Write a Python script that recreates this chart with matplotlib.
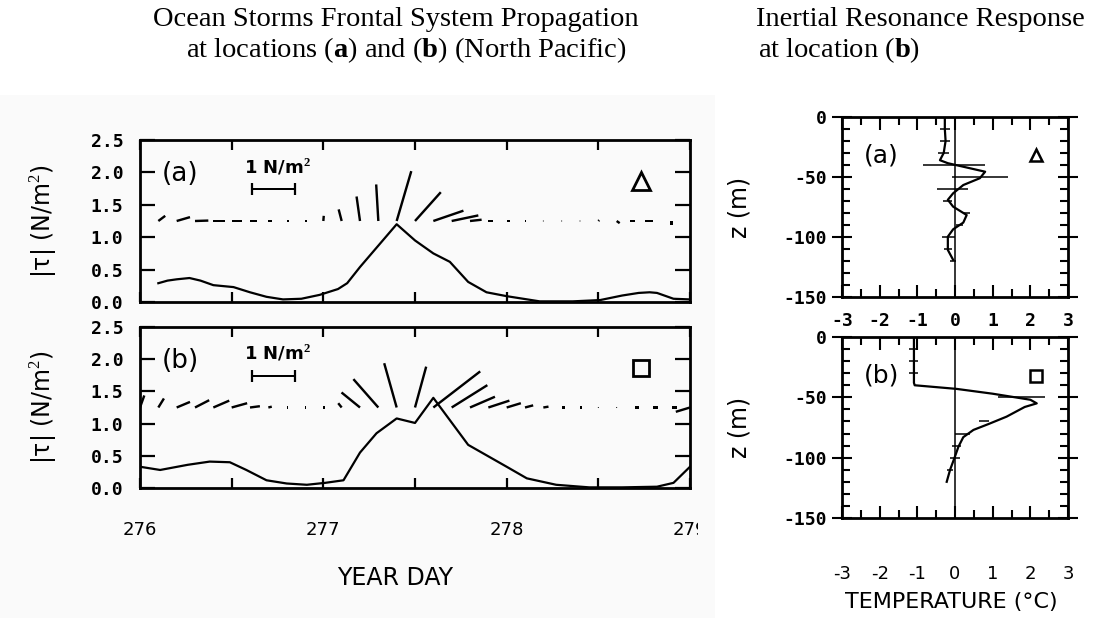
import numpy as np
import matplotlib
matplotlib.use("Agg")
import matplotlib.pyplot as plt
from matplotlib.patches import Rectangle
from matplotlib.ticker import MultipleLocator, FormatStrFormatter, FixedLocator
from matplotlib.transforms import ScaledTranslation, Bbox, TransformedBbox

plt.rcParams['axes.unicode_minus'] = False
plt.rcParams['mathtext.fontset'] = 'custom'
plt.rcParams['mathtext.rm'] = 'Liberation Serif'
plt.rcParams['mathtext.bf'] = 'Liberation Serif:bold'

# ---------------- data: wind stress magnitude (N/m^2) ----------------
day_a = [276.10, 276.15, 276.20, 276.27, 276.33, 276.40, 276.51, 276.60, 276.69, 276.78,
         276.88, 276.98, 277.08, 277.13, 277.20, 277.30, 277.40, 277.50, 277.60, 277.69,
         277.79, 277.89, 278.00, 278.18, 278.36, 278.51, 278.63, 278.72, 278.78, 278.82,
         278.91, 279.00]
tau_a = [0.29, 0.33, 0.35, 0.37, 0.33, 0.26, 0.23, 0.15, 0.08, 0.04,
         0.05, 0.11, 0.20, 0.29, 0.54, 0.87, 1.20, 0.95, 0.75, 0.62,
         0.31, 0.15, 0.09, 0.01, 0.01, 0.03, 0.10, 0.14, 0.15, 0.14,
         0.05, 0.04]

day_b = [276.00, 276.11, 276.26, 276.38, 276.49, 276.58, 276.69, 276.80, 276.91, 277.01,
         277.11, 277.20, 277.29, 277.40, 277.50, 277.60, 277.79, 278.00, 278.11, 278.27,
         278.45, 278.63, 278.82, 278.91, 279.00]
tau_b = [0.33, 0.28, 0.36, 0.41, 0.40, 0.28, 0.12, 0.07, 0.05, 0.08,
         0.12, 0.55, 0.85, 1.08, 1.01, 1.40, 0.67, 0.33, 0.15, 0.05,
         0.01, 0.01, 0.02, 0.08, 0.33]

# ---------------- data: wind stress vectors (stick plot) ----------------
stick_day_a = [276.1, 276.2, 276.3, 276.4, 276.5, 276.6, 276.7, 276.8, 276.9, 277.0,
               277.1, 277.2, 277.3, 277.4, 277.5, 277.6, 277.7, 277.8, 277.9, 278.0,
               278.1, 278.2, 278.3, 278.4, 278.5, 278.6, 278.7, 278.8, 278.9]
stick_u_a = [0.16, 0.31, 0.31, 0.27, 0.23, 0.16, 0.09, 0.05, 0.04, 0.01,
             -0.07, -0.08, -0.05, 0.34, 0.60, 0.70, 0.62, 0.27, 0.12, 0.07,
             0.03, 0.02, 0.02, 0.02, 0.02, 0.07, -0.12, -0.19, 0.00]
stick_v_a = [0.12, 0.09, 0.01, 0.00, 0.00, 0.00, 0.00, 0.00, 0.00, 0.12,
             0.27, 0.57, 0.85, 1.16, 0.67, 0.24, 0.13, 0.03, 0.00, 0.00,
             0.00, 0.00, 0.00, 0.00, 0.02, -0.05, 0.00, 0.00, -0.10]

stick_day_b = [276.0, 276.1, 276.2, 276.3, 276.4, 276.5, 276.6, 276.7, 276.8, 276.9,
               277.0, 277.1, 277.2, 277.3, 277.4, 277.5, 277.6, 277.7, 277.8, 277.9,
               278.0, 278.1, 278.2, 278.3, 278.4, 278.5, 278.6, 278.7, 278.8, 278.9,
               279.0]
stick_u_b = [0.10, 0.13, 0.31, 0.33, 0.37, 0.36, 0.23, 0.08, 0.03, 0.03,
             0.03, -0.08, -0.43, -0.58, -0.29, 0.26, 1.09, 0.83, 0.58, 0.49,
             0.33, 0.19, 0.12, 0.08, 0.04, 0.02, 0.02, 0.09, 0.10, 0.12,
             -0.33]
stick_v_b = [0.28, 0.21, 0.13, 0.17, 0.16, 0.10, 0.03, 0.02, 0.00, 0.00,
             0.00, 0.10, 0.35, 0.66, 1.03, 0.95, 0.84, 0.52, 0.25, 0.16,
             0.10, 0.05, 0.02, 0.00, 0.00, 0.00, 0.00, 0.00, 0.00, 0.00,
             -0.10]

# ---------------- data: temperature response profiles ----------------
temp_a = [-0.27, -0.27, -0.25, -0.30, -0.40, -0.19, 0.80, 0.66, 0.22, -0.05,
          -0.19, -0.05, 0.31, 0.22, -0.05, -0.19, -0.19, -0.05]
depth_a = [0, -10, -20, -30, -36, -38.5, -45.6, -51, -56.7, -63.6,
           -69, -74.7, -81.7, -88, -93.6, -99.7, -110.8, -119]
err_z_a = [-10, -20, -30, -40, -50, -60, -70, -80, -90, -100, -110, -120]
err_c_a = [-0.27, -0.27, -0.30, -0.02, 0.66, -0.07, -0.19, 0.30, 0.12, -0.17, -0.19, -0.05]
err_w_a = [0.14, 0.14, 0.14, 0.82, 0.75, 0.42, 0.12, 0.10, 0.10, 0.18, 0.10, 0.08]

temp_b = [-1.09, -1.09, -1.09, -1.09, -1.09, -1.07, 0.04, 1.00, 2.00, 2.17,
          1.85, 1.37, 0.90, 0.49, 0.22, 0.09, 0.00, -0.13, -0.22]
depth_b = [0, -10, -20, -30, -38, -40, -43, -47, -52, -55,
           -58, -66, -72, -77, -83, -91, -99, -110, -120]
err_z_b = [-10, -20, -30, -50, -70, -80, -90, -100, -110]
err_c_b = [-1.09, -1.09, -1.09, 1.77, 0.77, 0.20, 0.03, 0.00, -0.12]
err_w_b = [0.12, 0.12, 0.12, 0.62, 0.12, 0.20, 0.12, 0.12, 0.08]

year_ticks = [276, 277, 278, 279]
stress_ticks = [0.0, 0.5, 1.0, 1.5, 2.0, 2.5]
depth_ticks = [0, -50, -100, -150]
temp_ticks = [-3, -2, -1, 0, 1, 2, 3]

# ---------------- figure ----------------
W, H = 1093, 618
fig = plt.figure(figsize=(W / 100, H / 100), dpi=100)
fig.patches.append(Rectangle((0, 0), 715 / W, 1 - 95 / H, transform=fig.transFigure,
                             facecolor='#fafafa', edgecolor='none', zorder=-10))

def fax(x0, y0, x1, y1):
    return fig.add_axes([x0 / W, 1 - y1 / H, (x1 - x0) / W, (y1 - y0) / H])

axA = fax(140, 140, 690, 302)
axB = fax(140, 327, 690, 488)
axTa = fax(842, 117, 1068, 297)
axTb = fax(842, 337, 1068, 518)

mono = 'DejaVu Sans Mono'
px_per_unit = 43.0  # stick length in pixels for 1 N/m^2
qkw = dict(units='dots', scale_units='dots', scale=1 / px_per_unit, width=2.4,
           headwidth=0, headlength=0, headaxislength=0, pivot='tail', color='k',
           minlength=0.5)

def left_panel(ax, days, tau, sd, su, sv, lab, marker, show_x):
    ax.set_facecolor('none')
    ax.plot(days, tau, color='k', lw=1.6)
    ax.quiver(sd, np.full(len(sd), 1.25), su, sv, **qkw)
    # scale bar 1 N/m^2
    x0, yb = 276.61, 1.74
    ax.quiver([x0], [yb], [1.0], [0.0], **qkw)
    ax.plot([x0], [yb], marker='|', ms=9, mew=1.6, color='k')
    off = ScaledTranslation(px_per_unit / 100, 0, fig.dpi_scale_trans)
    ax.plot([x0], [yb], marker='|', ms=9, mew=1.6, color='k', transform=ax.transData + off)
    ax.text(276.75, 2.09, '1 N/m$^{\\mathbf{2}}$', ha='center', va='center', fontsize=13,
            fontweight='bold', family='DejaVu Sans')
    ax.text(276.22, 1.97, lab, ha='center', va='center', fontsize=19, family='DejaVu Sans')
    ax.plot([278.73], [1.87], marker=marker, ms=13 if marker == '^' else 12, mfc='none',
            mec='k', mew=2)
    ax.set_xlim(276, 279)
    ax.set_ylim(0, 2.5)
    ax.xaxis.set_major_locator(FixedLocator(year_ticks))
    ax.xaxis.set_minor_locator(MultipleLocator(0.5))
    ax.yaxis.set_major_locator(FixedLocator(stress_ticks))
    ax.yaxis.set_major_formatter(FormatStrFormatter('%.1f'))
    ax.tick_params(axis='x', which='both', direction='in', top=True, bottom=True,
                   length=7, width=1.6, labelbottom=show_x, pad=24,
                   labelsize=13)
    ax.tick_params(axis='y', which='both', direction='in', left=True, right=True,
                   length=11, width=1.6, pad=12, labelsize=13)
    for t in ax.get_yticklabels():
        t.set_family(mono)
        t.set_fontweight('bold')
    for s in ax.spines.values():
        s.set_linewidth(2)
    ax.set_ylabel('|τ| (N/m$^2$)', fontsize=17, family='DejaVu Sans')
    ax.yaxis.set_label_coords(-0.145, 0.5)

left_panel(axA, day_a, tau_a, stick_day_a, stick_u_a, stick_v_a, '(a)', '^', False)
left_panel(axB, day_b, tau_b, stick_day_b, stick_u_b, stick_v_b, '(b)', 's', True)

def right_panel(ax, T, z, ez, ec, ew, lab, marker, label_pad):
    ax.plot(T, z, color='k', lw=1.6)
    ax.axvline(0, color='k', lw=1.1)
    ec = np.asarray(ec); ew = np.asarray(ew)
    ax.hlines(ez, ec - ew, ec + ew, color='k', lw=1.1)
    ax.text(-1.95, -32, lab, ha='center', va='center', fontsize=18, family='DejaVu Sans')
    ax.plot([2.15], [-32], marker=marker, ms=9, mfc='none', mec='k', mew=1.8)
    ax.set_xlim(-3, 3)
    ax.set_ylim(-150, 0)
    ax.xaxis.set_major_locator(FixedLocator(temp_ticks))
    ax.xaxis.set_minor_locator(MultipleLocator(0.5))
    ax.yaxis.set_major_locator(FixedLocator(depth_ticks))
    ax.yaxis.set_minor_locator(MultipleLocator(10))
    ax.tick_params(axis='x', which='major', direction='in', top=True, bottom=True,
                   length=9, width=1.5, pad=label_pad, labelsize=13)
    ax.tick_params(axis='x', which='minor', direction='in', top=True, bottom=True,
                   length=6, width=1.5)
    ax.tick_params(axis='y', which='major', direction='inout', left=True, right=True,
                   length=14, width=1.5, pad=4, labelsize=13)
    ax.tick_params(axis='y', which='minor', direction='in', left=True, right=True,
                   length=6, width=1.5)
    for t in ax.get_yticklabels() + ax.get_xticklabels():
        t.set_family(mono)
        t.set_fontweight('bold')
    for s in ax.spines.values():
        s.set_linewidth(2)
    ax.set_ylabel('z (m)', fontsize=17, family='DejaVu Sans')
    ax.yaxis.set_label_coords(-0.40, 0.5)

right_panel(axTa, temp_a, depth_a, err_z_a, err_c_a, err_w_a, '(a)', '^', 11)
right_panel(axTb, temp_b, depth_b, err_z_b, err_c_b, err_w_b, '(b)', 's', 34)

for t in axTb.get_xticklabels():
    t.set_family('DejaVu Sans')
    t.set_fontweight('normal')

fig.text(395 / W, 1 - 578 / H, 'YEAR DAY', ha='center', va='center', fontsize=17,
         family='DejaVu Sans')
fig.text(951 / W, 1 - 602 / H, 'TEMPERATURE (°C)', ha='center', va='center', fontsize=16,
         family='DejaVu Sans')

serif = 'Liberation Serif'
fig.text(396 / W, 1 - 20 / H, 'Ocean Storms Frontal System Propagation', ha='center',
         va='center', fontsize=20.5, family=serif)
fig.text(406 / W, 1 - 50 / H, r'at locations ($\mathbf{a}$) and ($\mathbf{b}$) (North Pacific)',
         ha='center', va='center', fontsize=20.5, family=serif)
fig.text(920 / W, 1 - 20 / H, 'Inertial Resonance Response', ha='center', va='center',
         fontsize=20.5, family=serif)
fig.text(758 / W, 1 - 50 / H, r'at location ($\mathbf{b}$)', ha='left', va='center',
         fontsize=20.5, family=serif)

# clip the x tick labels of the lower left panel at the scan edge
fig.canvas.draw()
clip = TransformedBbox(Bbox.from_extents(0, 0, 698 / W, 1), fig.transFigure)
for t in axB.get_xticklabels():
    t.set_clip_box(clip)
    t.set_clip_on(True)

fig.savefig('out.png', dpi=100)
